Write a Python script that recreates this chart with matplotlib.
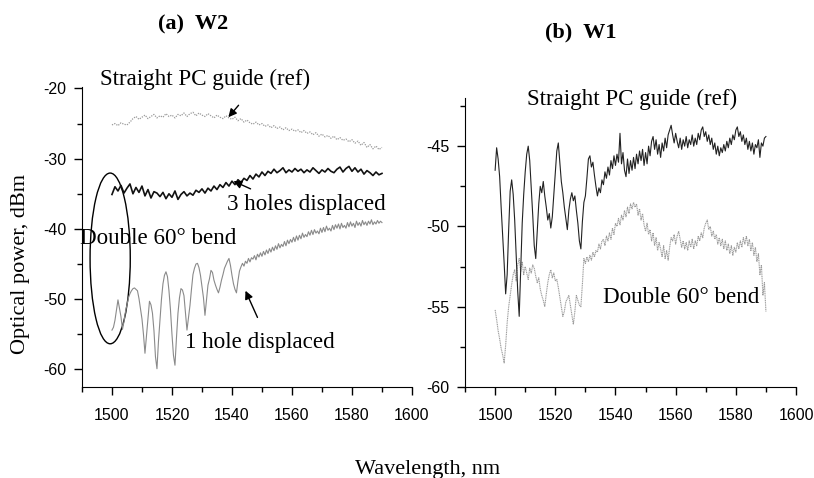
import numpy as np
import matplotlib
matplotlib.use('Agg')
import matplotlib.pyplot as plt
from matplotlib.patches import Ellipse
from matplotlib.ticker import MultipleLocator

plt.rcParams['axes.unicode_minus'] = False

# ---- data (dBm), panel (a) W2 ----
a_ref = [-25.2, -25.0, -25.3, -24.9, -25.1, -25.2, -24.8, -24.3, -24.0, -24.4,
         -24.1, -23.8, -24.3, -24.0, -23.7, -24.2, -23.9, -24.1, -23.6, -24.0,
         -23.8, -24.2, -23.7, -23.9, -23.5, -24.0, -23.6, -23.4, -23.9, -23.5,
         -23.8, -24.0, -23.6, -23.9, -24.2, -23.8, -24.1, -24.3, -23.9, -24.2,
         -24.4, -24.1, -24.6, -24.3, -24.8, -24.5, -24.9, -25.1, -24.8, -25.2,
         -25.0, -25.4, -25.2, -25.6, -25.3, -25.7, -25.5, -25.9, -25.6, -26.0,
         -25.8, -26.1, -25.9, -26.3, -26.0, -26.4, -26.2, -26.6, -26.3, -26.8,
         -26.5, -26.9, -26.7, -27.1, -26.8, -27.3, -27.0, -27.4, -27.2, -27.6,
         -27.3, -27.8, -27.5, -28.1, -27.7, -28.4, -28.0, -28.6, -28.2, -28.7, -28.4]

a_3holes = [-35.1, -34.0, -34.6, -33.8, -34.9, -34.2, -33.6, -35.0, -34.1, -34.8,
            -33.9, -35.3, -34.4, -35.6, -34.7, -34.9, -35.4, -34.8, -35.7, -35.0,
            -35.5, -34.6, -35.8, -35.1, -34.7, -35.3, -34.9, -35.2, -34.5, -34.8,
            -34.3, -34.9, -34.2, -34.6, -33.9, -34.4, -33.7, -34.1, -33.4, -33.9,
            -33.2, -33.7, -33.0, -33.4, -32.8, -33.1, -32.4, -32.9, -32.2, -32.6,
            -31.9, -32.4, -31.8, -32.1, -31.5, -32.0, -31.7, -31.3, -32.0, -31.6,
            -31.9, -31.4, -31.8, -31.5, -32.0, -31.6, -31.9, -31.3, -31.7, -32.1,
            -31.6, -31.9, -31.4, -31.8, -32.0, -31.5, -31.2, -31.9, -31.4, -31.1,
            -31.8, -31.3, -31.9, -31.5, -32.2, -31.7, -32.0, -32.4, -31.9, -32.3, -32.1]

a_1hole = [-54.4, -54.0, -53.0, -51.5, -50.1, -51.3, -52.5, -54.3, -53.2, -51.8,
           -50.8, -49.8, -49.2, -48.8, -48.5, -48.4, -48.6, -48.8, -49.9, -51.4,
           -52.8, -55.0, -57.7, -55.2, -52.6, -50.3, -50.8, -52.0, -54.5, -58.2,
           -59.9, -56.0, -53.0, -50.0, -47.8, -46.6, -46.1, -46.8, -48.8, -51.5,
           -55.0, -58.0, -59.4, -55.5, -52.0, -49.8, -48.5, -48.7, -49.5, -52.0,
           -54.4, -52.6, -50.9, -48.6, -46.5, -45.6, -45.0, -44.9, -45.5, -46.6,
           -48.2, -49.8, -52.3, -50.2, -48.0, -47.1, -45.9, -46.2, -47.3, -48.0,
           -48.6, -49.1, -48.3, -47.3, -46.5, -45.6, -45.1, -44.6, -44.2, -45.2,
           -46.6, -47.8, -48.6, -49.1, -47.4, -46.0, -45.4, -44.9, -45.3, -44.6,
           -44.9, -44.2, -44.7, -44.1, -44.3, -43.8, -44.4, -43.6, -44.0, -43.4,
           -43.9, -43.2, -43.7, -43.0, -43.5, -42.8, -43.3, -42.6, -43.1, -42.4,
           -42.9, -42.1, -42.7, -42.2, -42.5, -41.8, -42.4, -41.6, -42.1, -41.5,
           -41.9, -41.2, -41.8, -41.0, -41.6, -40.9, -41.4, -40.6, -41.2, -40.8,
           -41.1, -40.4, -40.9, -40.2, -40.8, -40.1, -40.6, -40.3, -40.7, -39.9,
           -40.5, -39.8, -40.4, -39.6, -40.2, -39.9, -40.3, -39.5, -40.1, -39.4,
           -39.9, -39.3, -40.0, -39.2, -39.8, -39.5, -39.9, -39.1, -39.7, -39.0,
           -39.6, -39.2, -39.8, -38.9, -39.5, -39.1, -39.6, -38.8, -39.4, -39.0,
           -39.5, -38.9, -39.3, -38.7, -39.4, -39.0, -39.3, -38.8, -39.2, -38.9, -39.1]

# ---- data (dBm), panel (b) W1 ----
b_ref = [-46.5, -45.1, -45.8, -46.9, -48.8, -50.5, -52.3, -54.2, -53.0, -50.2,
         -47.8, -47.1, -48.0, -49.6, -51.8, -54.0, -55.6, -52.8, -49.8, -48.0,
         -46.6, -45.5, -45.0, -45.9, -47.6, -49.3, -51.2, -52.0, -50.3, -48.6,
         -47.5, -47.9, -47.2, -48.1, -48.8, -49.6, -49.2, -50.1, -49.4, -48.0,
         -46.6, -45.3, -44.8, -46.0, -47.2, -47.9, -48.8, -49.5, -50.2, -49.0,
         -48.3, -47.9, -48.4, -48.1, -49.0, -49.8, -50.9, -51.4, -49.7, -48.5,
         -48.1, -47.0, -45.8, -45.6, -46.3, -46.0, -46.8, -47.5, -48.1, -47.6,
         -47.9, -47.1, -47.4, -46.6, -47.0, -46.3, -46.8, -45.9, -46.4, -45.6,
         -46.2, -45.5, -46.0, -44.2, -46.1, -45.4, -46.5, -46.9, -45.8, -46.7,
         -45.9, -46.5, -45.7, -46.4, -45.5, -46.1, -45.3, -45.9, -45.2, -46.2,
         -45.4, -46.1, -45.0, -45.6, -44.7, -44.4, -45.2, -44.6, -45.5, -44.9,
         -45.7, -44.8, -45.3, -44.5, -45.1, -44.3, -44.0, -43.7, -44.3, -44.8,
         -44.2, -44.7, -45.1, -44.5, -45.2, -44.6, -45.0, -44.4, -45.1, -44.6,
         -44.9, -44.3, -45.0, -44.5, -44.9, -44.2, -44.6, -44.0, -43.8, -44.4,
         -44.1, -44.7, -44.3, -44.9, -44.5, -45.2, -44.8, -45.5, -45.0, -45.6,
         -45.1, -45.4, -44.9, -45.3, -44.7, -45.1, -44.5, -44.9, -44.3, -44.6,
         -44.0, -43.8, -44.4, -44.1, -44.7, -44.3, -44.9, -44.5, -45.2, -44.7,
         -45.3, -44.8, -45.5, -44.9, -45.1, -44.6, -45.7, -44.8, -45.0, -44.5, -44.4]

b_bend = [-55.2, -55.8, -56.5, -57.0, -57.6, -58.0, -58.5, -57.4, -56.0, -55.0,
          -54.3, -53.6, -53.0, -52.7, -53.4, -52.4, -52.0, -52.8, -52.2, -53.0,
          -52.5, -52.9, -53.3, -52.6, -52.9, -52.4, -52.6, -53.1, -53.5, -53.2,
          -53.9, -54.3, -54.6, -55.0, -54.2, -53.5, -53.0, -52.7, -53.2, -52.9,
          -53.4, -53.3, -53.8, -54.4, -55.0, -55.6, -55.3, -54.7, -54.5, -54.3,
          -54.9, -55.5, -56.1, -55.3, -54.3, -54.6, -54.9, -55.0, -53.6, -52.0,
          -52.3, -51.9, -52.2, -51.8, -52.1, -51.6, -51.9, -51.5, -51.6, -51.1,
          -51.4, -50.9, -50.8, -51.2, -50.6, -50.9, -50.4, -50.8, -50.1, -50.5,
          -49.8, -50.0, -49.5, -49.9, -49.3, -49.6, -49.0, -49.4, -48.8, -49.2,
          -48.6, -48.9, -48.5, -48.8, -48.6, -49.3, -48.9, -49.6, -49.2, -49.9,
          -50.3, -49.8, -50.5, -50.2, -50.9, -50.4, -51.2, -50.7, -51.5, -51.0,
          -51.4, -51.9, -51.2, -52.0, -51.5, -52.1, -51.3, -50.7, -50.9, -50.5,
          -51.1, -50.6, -50.3, -50.8, -51.3, -50.9, -51.4, -51.0, -51.5, -50.9,
          -51.3, -50.8, -51.4, -50.9, -51.2, -50.6, -50.9, -50.4, -50.7, -50.1,
          -49.8, -49.6, -50.2, -50.0, -50.6, -50.3, -50.8, -50.5, -51.1, -50.7,
          -51.2, -50.8, -51.4, -50.9, -51.5, -51.1, -51.7, -51.2, -51.8, -51.3,
          -51.6, -51.0, -51.4, -50.9, -51.3, -50.7, -51.1, -50.6, -51.2, -50.8,
          -51.5, -51.0, -51.8, -51.3, -52.2, -51.7, -53.0, -52.4, -54.3, -53.5, -55.3]

wl_1nm = 1500 + np.arange(len(a_ref))
wl_half = 1500 + 0.5 * np.arange(len(a_1hole))

serif = ['Liberation Serif', 'DejaVu Serif']
tickfont = ['Liberation Sans Narrow', 'Liberation Sans', 'DejaVu Sans']

fig = plt.figure(figsize=(8.14, 4.78), dpi=100)
ax1 = fig.add_axes([0.1007, 0.1904, 0.4054, 0.6276])
ax2 = fig.add_axes([0.5713, 0.1904, 0.4066, 0.6046])

ax1.plot(wl_1nm, a_ref, color='#9a9a9a', lw=0.9, ls=(0, (1, 1)))
ax1.plot(wl_1nm, a_3holes, color='#111111', lw=1.2)
ax1.plot(wl_half, a_1hole, color='#8a8a8a', lw=0.8)
ax1.set_xlim(1490, 1600)
ax1.set_ylim(-62.5, -19.8)
ax1.yaxis.set_major_locator(MultipleLocator(10))
ax1.yaxis.set_minor_locator(MultipleLocator(5))

ax2.plot(wl_half, b_bend, color='#9a9a9a', lw=0.8, ls=(0, (1, 0.6)))
ax2.plot(wl_half, b_ref, color='#222222', lw=0.8)
ax2.set_xlim(1490, 1600)
ax2.set_ylim(-60, -42)
ax2.yaxis.set_major_locator(MultipleLocator(5))
ax2.yaxis.set_minor_locator(MultipleLocator(2.5))

for ax in (ax1, ax2):
    ax.spines['top'].set_visible(False)
    ax.spines['right'].set_visible(False)
    ax.xaxis.set_major_locator(MultipleLocator(20))
    ax.xaxis.set_minor_locator(MultipleLocator(10))
    ax.tick_params(which='major', direction='out', length=6, width=1, pad=5)
    ax.tick_params(axis='x', which='major', pad=9)
    ax.tick_params(which='minor', direction='out', length=3.5, width=1)
    for lab in ax.get_xticklabels() + ax.get_yticklabels():
        lab.set_family(tickfont)
        lab.set_fontsize(11.5)

# annotations, panel (a)
ax1.text(1496, -18.7, 'Straight PC guide (ref)', family=serif, fontsize=16.6,
         ha='left', va='center', clip_on=False)
ax1.text(1538.5, -36.5, '3 holes displaced', family=serif, fontsize=16.6,
         ha='left', va='center')
ax1.text(1489.3, -41.3, 'Double 60° bend', family=serif, fontsize=16.6,
         ha='left', va='center')
ax1.text(1524.4, -56.2, '1 hole displaced', family=serif, fontsize=16.6,
         ha='left', va='center')
arrow = dict(arrowstyle='-|>', color='black', lw=1, mutation_scale=12, shrinkA=0, shrinkB=0)
ax1.annotate('', xy=(1538.8, -24.1), xytext=(1542.2, -22.4), arrowprops=arrow)
ax1.annotate('', xy=(1540.5, -33.2), xytext=(1546.2, -34.3), arrowprops=arrow)
ax1.annotate('', xy=(1544.5, -48.8), xytext=(1548.5, -52.6), arrowprops=arrow)
ax1.add_patch(Ellipse((1499.4, -44.2), 13.4, 24.3, fill=False, ec='black',
                      lw=1, clip_on=False))

# annotations, panel (b)
ax2.text(1510.6, -42.1, 'Straight PC guide (ref)', family=serif, fontsize=16.6,
         ha='left', va='center', clip_on=False)
ax2.text(1535.8, -54.4, 'Double 60° bend', family=serif, fontsize=16.6,
         ha='left', va='center')

fig.text(0.237, 0.948, '(a)  W2', family=serif, fontsize=16, weight='bold',
         ha='center', va='center')
fig.text(0.713, 0.933, '(b)  W1', family=serif, fontsize=16, weight='bold',
         ha='center', va='center')
fig.text(0.025, 0.448, 'Optical power, dBm', family=serif, fontsize=16,
         rotation=90, ha='center', va='center')
fig.text(0.525, 0.017, 'Wavelength, nm', family=serif, fontsize=16,
         ha='center', va='center')

fig.savefig('out.png', dpi=100)
